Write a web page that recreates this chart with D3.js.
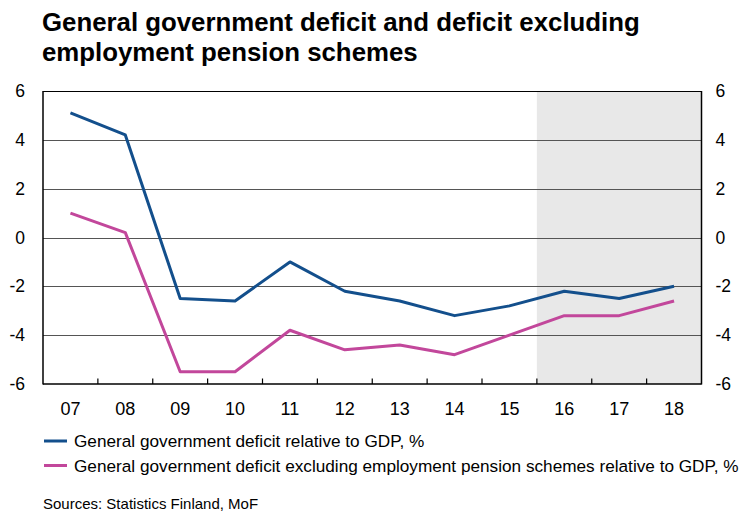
<!DOCTYPE html>
<html>
<head>
<meta charset="utf-8">
<script src="https://cdn.jsdelivr.net/npm/d3@7"></script>
<style>
  html, body { margin: 0; padding: 0; background: #fff; }
  svg { display: block; font-family: "Liberation Sans", Arial, sans-serif; }
</style>
</head>
<body>
<svg id="chart" width="745" height="514"></svg>
<script>
// Years (two-digit labels) and series values, % of GDP
const years = ["07", "08", "09", "10", "11", "12", "13", "14", "15", "16", "17", "18"];
const deficit = [5.1, 4.2, -2.5, -2.6, -1.0, -2.2, -2.6, -3.2, -2.8, -2.2, -2.5, -2.0];
const deficitExclPension = [1.0, 0.2, -5.5, -5.5, -3.8, -4.6, -4.4, -4.8, -4.0, -3.2, -3.2, -2.6];
const yTicks = [-6, -4, -2, 0, 2, 4, 6];
const forecastYears = ["16", "17", "18"];

const seriesNames = [
  "General government deficit relative to GDP, %",
  "General government deficit excluding employment pension schemes relative to GDP, %"
];
const seriesColors = ["#134f8c", "#c2479b"];

const svg = d3.select("#chart");
const plot = { left: 43, right: 701.5, top: 91, bottom: 384 };

const x = d3.scaleBand().domain(years).range([plot.left, plot.right]);
const y = d3.scaleLinear().domain([-6, 6]).range([plot.bottom, plot.top]);

// Plain hyphen-minus for negative tick labels
const fmt = d => String(d);

// Title
const title = svg.append("text")
  .attr("font-size", 25.8).attr("font-weight", "bold").attr("fill", "#000");
title.append("tspan").attr("x", 42).attr("y", 31)
  .text("General government deficit and deficit excluding");
title.append("tspan").attr("x", 42).attr("y", 61)
  .text("employment pension schemes");

// Forecast shading
svg.append("rect")
  .attr("x", x(forecastYears[0]))
  .attr("y", y(6))
  .attr("width", plot.right - x(forecastYears[0]))
  .attr("height", y(-6) - y(6))
  .attr("fill", "#e8e8e8");

// Horizontal gridlines
svg.append("g")
  .selectAll("line")
  .data(yTicks.filter(d => d > -6 && d < 6))
  .join("line")
  .attr("x1", plot.left).attr("x2", plot.right)
  .attr("y1", d => Math.round(y(d)) + 0.5).attr("y2", d => Math.round(y(d)) + 0.5)
  .attr("stroke", "#555").attr("stroke-width", 1);

// Top frame line
svg.append("line")
  .attr("x1", plot.left).attr("x2", plot.right)
  .attr("y1", Math.round(y(6)) + 0.5).attr("y2", Math.round(y(6)) + 0.5)
  .attr("stroke", "#000").attr("stroke-width", 1);

// Left and right axes (labels only; frame lines drawn separately)
const leftAxis = svg.append("g")
  .attr("transform", `translate(${plot.left},0)`)
  .call(d3.axisLeft(y).tickValues(yTicks).tickSize(0).tickPadding(18).tickFormat(fmt));
const rightAxis = svg.append("g")
  .attr("transform", `translate(${plot.right},0)`)
  .call(d3.axisRight(y).tickValues(yTicks).tickSize(0).tickPadding(14).tickFormat(fmt));
[leftAxis, rightAxis].forEach(g => {
  g.select(".domain").remove();
  g.selectAll("text").attr("font-size", 17.5).attr("fill", "#000")
    .attr("font-family", "'Liberation Sans', Arial, sans-serif");
});

svg.append("line")
  .attr("x1", plot.left).attr("x2", plot.left)
  .attr("y1", plot.top).attr("y2", plot.bottom + 0.5)
  .attr("stroke", "#000").attr("stroke-width", 1.5);
svg.append("line")
  .attr("x1", plot.right).attr("x2", plot.right)
  .attr("y1", plot.top).attr("y2", plot.bottom + 0.5)
  .attr("stroke", "#000").attr("stroke-width", 1.5);

// Bottom axis with inward ticks between categories
const bottom = svg.append("g").attr("transform", `translate(0,${plot.bottom})`);
bottom.append("line")
  .attr("x1", plot.left).attr("x2", plot.right)
  .attr("stroke", "#000").attr("stroke-width", 1.5);
bottom.selectAll("line.tick")
  .data(years.slice(1))
  .join("line").attr("class", "tick")
  .attr("x1", d => x(d)).attr("x2", d => x(d))
  .attr("y1", 0).attr("y2", -5.5)
  .attr("stroke", "#000").attr("stroke-width", 1.2);
bottom.selectAll("text")
  .data(years)
  .join("text")
  .attr("x", d => x(d) + x.bandwidth() / 2)
  .attr("y", 31)
  .attr("text-anchor", "middle")
  .attr("font-size", 18).attr("fill", "#000")
  .text(d => d);

// Series lines
const line = d3.line()
  .x((d, i) => x(years[i]) + x.bandwidth() / 2)
  .y(d => y(d));
[deficit, deficitExclPension].forEach((vals, i) => {
  svg.append("path")
    .datum(vals)
    .attr("d", line)
    .attr("fill", "none")
    .attr("stroke", seriesColors[i])
    .attr("stroke-width", 3)
    .attr("stroke-linejoin", "round");
});

// Legend
const legend = svg.append("g");
seriesNames.forEach((name, i) => {
  const ly = 441 + i * 24.5;
  legend.append("line")
    .attr("x1", 44).attr("x2", 67)
    .attr("y1", ly).attr("y2", ly)
    .attr("stroke", seriesColors[i]).attr("stroke-width", 3);
  legend.append("text")
    .attr("x", 74).attr("y", ly + 6)
    .attr("font-size", 17.2).attr("fill", "#000")
    .text(name);
});

// Sources
svg.append("text")
  .attr("x", 43).attr("y", 509)
  .attr("font-size", 15).attr("fill", "#000")
  .text("Sources: Statistics Finland, MoF");
</script>
</body>
</html>
